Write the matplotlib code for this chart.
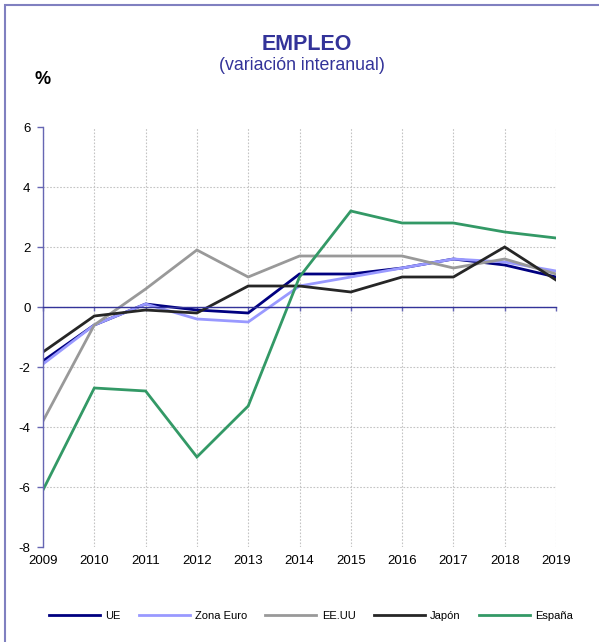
import matplotlib
matplotlib.use("Agg")
from matplotlib import pyplot as plt
from matplotlib.patches import Rectangle

plt.rcParams['font.family'] = ['Liberation Sans', 'DejaVu Sans']
plt.rcParams['axes.unicode_minus'] = False

years = list(range(2009, 2020))
ue = [-1.8, -0.6, 0.1, -0.1, -0.2, 1.1, 1.1, 1.3, 1.6, 1.4, 1.0]
zona_euro = [-1.9, -0.6, 0.1, -0.4, -0.5, 0.7, 1.0, 1.3, 1.6, 1.5, 1.2]
eeuu = [-3.8, -0.6, 0.6, 1.9, 1.0, 1.7, 1.7, 1.7, 1.3, 1.6, 1.1]
japon = [-1.5, -0.3, -0.1, -0.2, 0.7, 0.7, 0.5, 1.0, 1.0, 2.0, 0.9]
espana = [-6.1, -2.7, -2.8, -5.0, -3.3, 1.0, 3.2, 2.8, 2.8, 2.5, 2.3]
y_ticks = [6, 4, 2, 0, -2, -4, -6, -8]

series = [
    ('UE', ue, '#000080'),
    ('Zona Euro', zona_euro, '#9999ff'),
    ('EE.UU', eeuu, '#999999'),
    ('Japón', japon, '#262626'),
    ('España', espana, '#339966'),
]

axis_col = '#6666b3'
title_col = '#333399'

fig = plt.figure(figsize=(5.99, 6.42), dpi=100)
# outer frame of the chart box
fig.add_artist(Rectangle((5 / 599, -0.1), 1.2, 1.1 - 5 / 642,
                         transform=fig.transFigure, fill=False,
                         edgecolor='#8080c0', lw=1.5))

ax = fig.add_axes([43 / 599, 1 - 547 / 642, (556 - 43) / 599, (547 - 127) / 642])

for name, vals, col in series:
    ax.plot(years, vals, color=col, lw=2.0, label=name, solid_joinstyle='miter')

ax.set_xlim(2009, 2019)
ax.set_ylim(-8, 6)
ax.set_yticks(y_ticks)
ax.set_xticks(years)

ax.grid(True, ls=(0, (1.5, 1.5)), color='#c4c4c4', lw=0.8)
ax.set_axisbelow(True)
for i in (0, -1):
    ax.yaxis.get_gridlines()[i].set_visible(False)
    ax.xaxis.get_gridlines()[i].set_visible(False)

for s in ('top', 'right'):
    ax.spines[s].set_visible(False)
ax.spines['left'].set_color(axis_col)
ax.spines['left'].set_linewidth(1.0)
ax.spines['bottom'].set_position(('data', 0))
ax.spines['bottom'].set_color('#333399')
ax.spines['bottom'].set_linewidth(1.0)
ax.tick_params(axis='y', colors=axis_col, length=4, width=1, labelcolor='black',
               labelsize=9.5, pad=5)
ax.tick_params(axis='x', colors=axis_col, length=3, width=1, labelbottom=False)

sec = ax.secondary_xaxis('bottom')
sec.set_xticks(years)
sec.spines['bottom'].set_visible(False)
sec.tick_params(length=0, labelsize=9.5, pad=6, labelcolor='black')

fig.text(307 / 599, 1 - 44 / 642, 'EMPLEO', ha='center', va='center',
         fontsize=15.5, fontweight='bold', color=title_col)
fig.text(302 / 599, 1 - 66 / 642, '(variación interanual)', ha='center',
         va='center', fontsize=12.8, color=title_col)
fig.text(43 / 599, 1 - 80 / 642, '%', ha='center', va='center',
         fontsize=13, fontweight='bold', color='black')

fig.legend(loc='center', bbox_to_anchor=(311 / 599, 1 - 616 / 642), ncol=5,
           frameon=False, fontsize=8, handlelength=4.6, columnspacing=1.6,
           handletextpad=0.5)

fig.savefig('out.png', dpi=100)
